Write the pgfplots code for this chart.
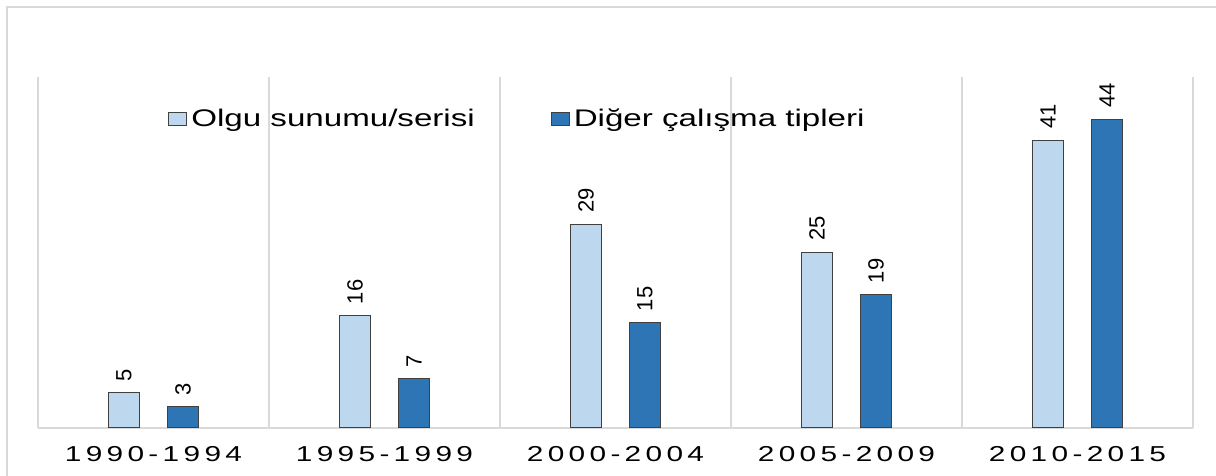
\documentclass[border=0pt]{standalone}
\usepackage{fontspec}
\setmainfont{Liberation Sans}
\newfontfamily\legfont[FakeStretch=1.38]{Liberation Sans}
\newfontfamily\tickfont[FakeStretch=1.38,LetterSpace=20]{Liberation Sans}
\usepackage{pgfplots}
\pgfplotsset{compat=1.18}
\definecolor{lightbar}{HTML}{BDD7EE}
\definecolor{darkbar}{HTML}{2E75B6}
\definecolor{gridgray}{HTML}{D9D9D9}
\definecolor{bordergray}{HTML}{404040}
\begin{document}
\begin{tikzpicture}
\path[use as bounding box] (-19pt,-24pt) rectangle (589pt,214pt);
\begin{axis}[
  scale only axis,
  width=577.5pt, height=175.5pt,
  xmin=-0.5, xmax=4.5, ymin=0, ymax=50,
  enlargelimits=false,
  ybar=14pt, bar width=15.5pt,
  xtick={0,1,2,3,4},
  xticklabels={1990-1994,1995-1999,2000-2004,2005-2009,2010-2015},
  minor xtick={-0.5,0.5,1.5,2.5,3.5,4.5},
  xminorgrids,
  minor grid style={draw=gridgray, line width=0.6pt},
  major tick length=0pt, minor tick length=0pt,
  ytick=\empty,
  axis x line=bottom, axis y line=none,
  x axis line style={-, draw=gridgray, line width=0.6pt},
  xticklabel style={font=\fontsize{10.8pt}{12pt}\tickfont, inner sep=0pt, anchor=north, yshift=-9pt},
  /pgf/number format/assume math mode=true,
  nodes near coords,
  every node near coord/.append style={rotate=90, anchor=west, font=\fontsize{11pt}{13pt}\selectfont, inner xsep=5.5pt, inner ysep=0pt, text=black},
  clip=false,
  legend columns=2,
  legend style={at={(0.1125,0.88)}, anchor=west, draw=none, fill=none, inner sep=0pt,
    font=\fontsize{12pt}{14pt}\legfont,
    /tikz/every even column/.append style={column sep=36pt}},
]
\addplot[fill=lightbar, draw=bordergray, line width=0.5pt,
  legend image code/.code={\draw[fill=lightbar, draw=bordergray, line width=0.5pt] (0pt,-3.25pt) rectangle (9pt,3.25pt);}]
  coordinates {(0,5) (1,16) (2,29) (3,25) (4,41)};
\addlegendentry{Olgu sunumu/serisi}
\addplot[fill=darkbar, draw=bordergray, line width=0.5pt,
  legend image code/.code={\draw[fill=darkbar, draw=bordergray, line width=0.5pt] (0pt,-3.25pt) rectangle (9pt,3.25pt);}]
  coordinates {(0,3) (1,7) (2,15) (3,19) (4,44)};
\addlegendentry{Diğer çalışma tipleri}
\end{axis}
\draw[gridgray, line width=1pt] (-15.5pt,-30pt) -- (-15.5pt,210.5pt) -- (595pt,210.5pt);
\end{tikzpicture}
\end{document}
